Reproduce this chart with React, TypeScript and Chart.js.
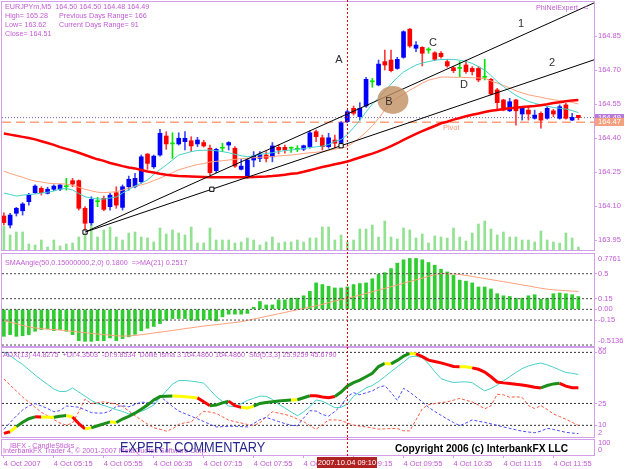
import React, { useEffect, useRef } from 'react';
import { Chart, registerables } from 'chart.js';

Chart.register(...registerables);

// ---------------- data ----------------
const OPEN = [164.056, 164.016, 164.068, 164.079, 164.119, 164.159, 164.178, 164.156, 164.174, 164.174,
  164.185, 164.212, 164.212, 164.09, 164.026, 164.119, 164.134, 164.097, 164.159, 164.094,
  164.185, 164.185, 164.207, 164.329, 164.273, 164.325, 164.409, 164.374, 164.374, 164.384,
  164.388, 164.374, 164.38, 164.355, 164.256, 164.355, 164.369, 164.355, 164.262, 164.227,
  164.303, 164.31, 164.325, 164.317, 164.359, 164.359, 164.355, 164.35, 164.351, 164.362,
  164.428, 164.401, 164.362, 164.391, 164.38, 164.472, 164.531, 164.494, 164.541, 164.648,
  164.634, 164.737, 164.744, 164.707, 164.756, 164.88, 164.796, 164.8, 164.788, 164.776,
  164.774, 164.737, 164.71, 164.707, 164.722, 164.707, 164.707, 164.668, 164.659, 164.612,
  164.568, 164.52, 164.568, 164.506, 164.523, 164.487, 164.509, 164.487, 164.52, 164.487,
  164.546, 164.479, 164.5];
const HIGH = [164.07, 164.068, 164.094, 164.115, 164.156, 164.193, 164.185, 164.183, 164.193, 164.197,
  164.222, 164.222, 164.215, 164.097, 164.141, 164.138, 164.144, 164.156, 164.185, 164.193,
  164.232, 164.244, 164.325, 164.332, 164.325, 164.438, 164.428, 164.423, 164.423, 164.428,
  164.406, 164.403, 164.39, 164.369, 164.355, 164.377, 164.384, 164.362, 164.306, 164.31,
  164.34, 164.34, 164.34, 164.38, 164.369, 164.369, 164.36, 164.366, 164.369, 164.432,
  164.435, 164.413, 164.421, 164.413, 164.472, 164.523, 164.541, 164.556, 164.668, 164.663,
  164.744, 164.788, 164.788, 164.756, 164.873, 164.884, 164.825, 164.803, 164.798, 164.781,
  164.781, 164.747, 164.715, 164.737, 164.744, 164.715, 164.715, 164.747, 164.663, 164.619,
  164.571, 164.575, 164.571, 164.535, 164.535, 164.523, 164.516, 164.538, 164.527, 164.546,
  164.553, 164.509, 164.5];
const LOW = [164.017, 164.003, 164.056, 164.06, 164.104, 164.156, 164.148, 164.153, 164.168, 164.168,
  164.17, 164.185, 164.082, 163.982, 164.016, 164.097, 164.079, 164.082, 164.09, 164.082,
  164.17, 164.18, 164.2, 164.262, 164.266, 164.32, 164.35, 164.31, 164.369, 164.347,
  164.34, 164.362, 164.36, 164.237, 164.247, 164.34, 164.347, 164.27, 164.259, 164.222,
  164.273, 164.296, 164.295, 164.295, 164.33, 164.333, 164.336, 164.34, 164.344, 164.355,
  164.384, 164.347, 164.355, 164.355, 164.362, 164.467, 164.501, 164.479, 164.535, 164.624,
  164.63, 164.7, 164.692, 164.703, 164.752, 164.8, 164.781, 164.718, 164.774, 164.741,
  164.752, 164.712, 164.688, 164.67, 164.685, 164.678, 164.648, 164.656, 164.59, 164.527,
  164.52, 164.516, 164.457, 164.479, 164.479, 164.483, 164.443, 164.483, 164.494, 164.483,
  164.483, 164.476, 164.48];
const CLOSE = [164.027, 164.06, 164.09, 164.109, 164.148, 164.188, 164.159, 164.174, 164.188, 164.193,
  164.185, 164.197, 164.09, 164.024, 164.129, 164.119, 164.085, 164.148, 164.104, 164.185,
  164.218, 164.222, 164.317, 164.288, 164.32, 164.421, 164.374, 164.374, 164.399, 164.399,
  164.365, 164.391, 164.365, 164.247, 164.35, 164.355, 164.38, 164.276, 164.276, 164.303,
  164.32, 164.329, 164.31, 164.365, 164.347, 164.347, 164.355, 164.35, 164.366, 164.423,
  164.406, 164.362, 164.401, 164.377, 164.467, 164.516, 164.509, 164.531, 164.659, 164.648,
  164.726, 164.722, 164.697, 164.747, 164.869, 164.806, 164.81, 164.774, 164.788, 164.747,
  164.759, 164.718, 164.697, 164.707, 164.693, 164.693, 164.656, 164.668, 164.594, 164.556,
  164.523, 164.56, 164.52, 164.531, 164.506, 164.501, 164.479, 164.531, 164.506, 164.538,
  164.487, 164.491, 164.49];
const MA_FAST = [164.157, 164.151, 164.144, 164.148, 164.151, 164.153, 164.157, 164.161, 164.166, 164.175,
  164.177, 164.171, 164.155, 164.141, 164.135, 164.131, 164.131, 164.135, 164.14, 164.157,
  164.172, 164.188, 164.201, 164.215, 164.239, 164.261, 164.281, 164.303, 164.325, 164.332,
  164.34, 164.345, 164.346, 164.347, 164.344, 164.34, 164.335, 164.328, 164.322, 164.318,
  164.321, 164.327, 164.332, 164.335, 164.34, 164.345, 164.347, 164.35, 164.354, 164.358,
  164.361, 164.364, 164.371, 164.385, 164.393, 164.415, 164.446, 164.478, 164.515, 164.55,
  164.576, 164.607, 164.638, 164.667, 164.691, 164.707, 164.722, 164.731, 164.737, 164.743,
  164.746, 164.747, 164.747, 164.743, 164.738, 164.729, 164.715, 164.7, 164.676, 164.649,
  164.627, 164.607, 164.588, 164.574, 164.562, 164.553, 164.546, 164.54, 164.535, 164.531,
  164.528, 164.521, 164.512];
const MA_MID = [164.254, 164.244, 164.235, 164.227, 164.217, 164.21, 164.206, 164.201, 164.199, 164.198,
  164.197, 164.191, 164.183, 164.174, 164.167, 164.161, 164.159, 164.161, 164.163, 164.17,
  164.179, 164.187, 164.193, 164.201, 164.212, 164.223, 164.235, 164.247, 164.26, 164.268,
  164.276, 164.283, 164.287, 164.294, 164.297, 164.3, 164.303, 164.306, 164.309, 164.311,
  164.313, 164.315, 164.317, 164.318, 164.321, 164.323, 164.325, 164.328, 164.332, 164.335,
  164.337, 164.34, 164.345, 164.351, 164.356, 164.362, 164.381, 164.402, 164.426, 164.454,
  164.486, 164.524, 164.557, 164.576, 164.594, 164.611, 164.626, 164.642, 164.655, 164.662,
  164.669, 164.669, 164.668, 164.668, 164.667, 164.666, 164.665, 164.663, 164.652, 164.642,
  164.632, 164.621, 164.608, 164.599, 164.591, 164.585, 164.58, 164.574, 164.569, 164.565,
  164.562, 164.557, 164.55];
const MA_SLOW = [164.42, 164.415, 164.41, 164.405, 164.4, 164.394, 164.386, 164.378, 164.37, 164.36,
  164.352, 164.344, 164.335, 164.325, 164.315, 164.306, 164.299, 164.29, 164.283, 164.276,
  164.27, 164.266, 164.259, 164.252, 164.248, 164.242, 164.238, 164.235, 164.232, 164.231,
  164.23, 164.229, 164.228, 164.227, 164.227, 164.227, 164.227, 164.227, 164.227, 164.227,
  164.228, 164.229, 164.23, 164.232, 164.235, 164.238, 164.242, 164.245, 164.251, 164.258,
  164.265, 164.272, 164.278, 164.284, 164.29, 164.296, 164.305, 164.314, 164.323, 164.331,
  164.341, 164.352, 164.364, 164.377, 164.392, 164.405, 164.418, 164.43, 164.442, 164.453,
  164.465, 164.472, 164.481, 164.488, 164.496, 164.503, 164.508, 164.515, 164.52, 164.524,
  164.528, 164.531, 164.534, 164.537, 164.539, 164.541, 164.545, 164.549, 164.554, 164.558,
  164.562, 164.566, 164.568];
const VOLUME = [96, 60, 72, 72, 24, 20, 40, 12, 40, 16, 24, 28, 52, 84, 108, 52, 80, 92, 52, 40, 68, 72, 52, 48,
  32, 88, 64, 80, 68, 60, 92, 28, 28, 88, 40, 40, 40, 28, 32, 48, 40, 20, 32, 52, 28, 32, 32,
  40, 32, 48, 48, 92, 92, 40, 60, 32, 40, 84, 84, 100, 52, 116, 52, 44, 88, 80, 48, 64, 28, 56,
  52, 48, 88, 52, 36, 68, 104, 116, 84, 60, 72, 52, 52, 40, 40, 32, 76, 40, 32, 28, 68, 48, 12];
const VOLUME_MAX = 992;
const PRICE_MIN = 163.906;
const PRICE_MAX = 165.0;
const PRICE_TICKS = [163.95, 164.1, 164.25, 164.4, 164.55, 164.7, 164.85];
const BID = 164.49;
const PIVOT = 164.47;
const TREND_1 = [{ x: 13, y: 163.985 }, { x: 94.5, y: 164.996 }];
const TREND_2 = [{ x: 13, y: 163.985 }, { x: 33.3, y: 164.174 }, { x: 54, y: 164.366 }, { x: 94.5, y: 164.745 }];
const NOTES = [
  { text: 'A', bar: 53.66, price: 164.744 },
  { text: 'B', bar: 61.67, price: 164.56 },
  { text: 'C', bar: 68.72, price: 164.818 },
  { text: 'D', bar: 73.68, price: 164.634 },
  { text: '1', bar: 82.8, price: 164.903 },
  { text: '2', bar: 87.77, price: 164.731 },
];
const ELLIPSE_B = { bar: 62.3, price: 164.568 };
const PIVOT_LABEL = { text: 'Pivot', bar: 70.3, price: 164.444 };
const HEADER = [
  ['EURJPYm,M5  164.50 164.50 164.48 164.49', ''],
  ['High= 165.28', 'Previous Days Range= 166'],
  ['Low= 163.62', 'Current Days Range= 91'],
  ['Close= 164.51', ''],
];

const SMA_ANGLE = [-0.378, -0.354, -0.378, -0.37, -0.354, -0.307, -0.283, -0.274, -0.297, -0.283,
  -0.307, -0.354, -0.439, -0.448, -0.448, -0.439, -0.439, -0.401, -0.439, -0.41,
  -0.385, -0.35, -0.3, -0.265, -0.24, -0.2, -0.152, -0.129, -0.129, -0.129,
  -0.152, -0.152, -0.143, -0.143, -0.162, -0.105, -0.067, -0.067, -0.067, -0.057,
  0.03, 0.11, 0.062, 0.062, 0.133, 0.133, 0.157, 0.157, 0.19, 0.252,
  0.371, 0.348, 0.324, 0.3, 0.3, 0.314, 0.348, 0.362, 0.371, 0.429,
  0.49, 0.514, 0.571, 0.648, 0.695, 0.714, 0.714, 0.695, 0.657, 0.619,
  0.562, 0.524, 0.476, 0.41, 0.395, 0.371, 0.314, 0.314, 0.286, 0.219,
  0.19, 0.181, 0.157, 0.157, 0.19, 0.205, 0.143, 0.157, 0.219, 0.229,
  0.219, 0.205, 0.18];
const SMA_ANGLE_MA = [-0.16, -0.18, -0.2, -0.225, -0.245, -0.26, -0.27, -0.277, -0.284, -0.29,
  -0.299, -0.308, -0.318, -0.327, -0.337, -0.346, -0.354, -0.362, -0.37, -0.375,
  -0.372, -0.366, -0.355, -0.344, -0.331, -0.32, -0.308, -0.296, -0.283, -0.27,
  -0.258, -0.246, -0.234, -0.224, -0.215, -0.205, -0.194, -0.184, -0.173, -0.155,
  -0.136, -0.117, -0.099, -0.081, -0.062, -0.043, -0.024, -0.006, 0.013, 0.032,
  0.05, 0.07, 0.095, 0.117, 0.138, 0.155, 0.177, 0.2, 0.223, 0.246,
  0.27, 0.294, 0.318, 0.341, 0.366, 0.39, 0.414, 0.437, 0.463, 0.486,
  0.504, 0.5, 0.495, 0.49, 0.476, 0.462, 0.447, 0.432, 0.417, 0.403,
  0.388, 0.374, 0.358, 0.343, 0.329, 0.312, 0.296, 0.283, 0.274, 0.268,
  0.262, 0.256, 0.2517];
const SMA_MIN = -0.5136;
const SMA_MAX = 0.7761;
const SMA_LEVELS = [0.5, 0.15, 0, -0.15, -0.5];
const SMA_TICKS = [-0.15, 0, 0.15, 0.5];
const SMA_TICK_LABELS = ['-0.15', '0.00', '0.15', '0.5'];

const ADX = [60.3, 57.8, 54.6, 51.8, 48.1, 44.5, 41.1, 38.1, 34.9, 33.1,
  33.3, 35.6, 32.8, 30, 27.1, 24.9, 23.6, 22.2, 20.8, 19.5,
  17.8, 18.5, 19.5, 21.5, 23.9, 28.7, 33.5, 38.3, 40.7, 40.7,
  40.3, 39.7, 38.9, 34.4, 29.7, 26.4, 23.2, 22.8, 24.8, 27.1,
  28.5, 30, 29.9, 27.8, 24.5, 21.9, 19.1, 16.6, 19.2, 22.8,
  27.4, 26.5, 24.4, 22.1, 22.3, 24.6, 30, 32.8, 35.6, 37.3,
  40.1, 43.3, 46.8, 50.1, 53.3, 56.9, 57.4, 56.4, 52.1, 46.8,
  42, 40.5, 39.3, 39.7, 39.8, 39.2, 36.3, 33.6, 35.3, 37.6,
  40.5, 43.3, 46.2, 48.9, 50.7, 51.9, 52.7, 51.4, 49.8, 48,
  46.2, 45.7, 44.83];
const PLUS_DI = [7.2, 11.9, 16.4, 20.5, 23.3, 24.9, 23.3, 21.5, 19.3, 20.1,
  23.2, 22.9, 22.4, 20.6, 18.7, 18.4, 18.4, 19.8, 22.9, 23.4,
  22.7, 24.3, 25.9, 25.6, 25.1, 29.9, 26.5, 22.9, 19.8, 18,
  16.2, 14.5, 12.6, 10.7, 8.9, 9.1, 9.4, 9.4, 9.1, 8.9,
  11.2, 13.9, 15.5, 14, 12.6, 11.2, 10, 9.6, 15, 20,
  19.8, 17.4, 16.3, 19.5, 23.5, 29.7, 32.4, 30.9, 32.3, 33.6,
  36, 37.2, 32.5, 27.2, 35.4, 32.7, 29.4, 26.1, 22.4, 19.5,
  16.9, 14.3, 11.9, 9.7, 11.6, 13.7, 12.8, 12, 11, 10,
  8.9, 7.9, 6.9, 6, 5.4, 4.9, 6, 7.9, 7.2, 6.2,
  5.2, 4.7, 4.35];
const MINUS_DI = [41.8, 37.6, 33.5, 29.4, 25.9, 22.4, 18.9, 16.5, 14, 11.5,
  10.1, 11.6, 19.4, 28, 24.9, 25.6, 26.1, 25.4, 24.5, 22.9,
  19.9, 16.6, 13.7, 10.9, 8.3, 7.3, 6, 7.6, 10.7, 11.8,
  12.4, 16, 19.6, 19.1, 18.2, 15.9, 13.6, 12.5, 11.6, 10.6,
  9.8, 11.8, 15.6, 19.3, 18.3, 17.5, 16.2, 14.3, 12.5, 9.8,
  7.3, 10.5, 13.7, 13.7, 13.4, 11.6, 10.1, 9.4, 8.9, 8.2,
  7.4, 7.6, 7.8, 7.8, 6.3, 6.2, 13.7, 21.3, 24.2, 24.9,
  25.6, 26.1, 27.2, 28.5, 27.2, 26, 23.9, 21.3, 23.4, 31.3,
  30.9, 29.2, 29.6, 29.1, 23.5, 21.5, 23.5, 20.9, 17.8, 16,
  14.2, 12.1, 9.85];
const STOCH = [4.5, 5.6, 9.1, 12.1, 14.5, 15.8, 15.7, 15.5, 15.5, 16.2,
  16.7, 15.7, 11.2, 7.5, 8.3, 9.7, 11, 12.4, 11.9, 14.3,
  16.2, 18.3, 21.1, 23.9, 27.4, 29.7, 29.9, 30.1, 29.9, 29.6,
  29.3, 28.8, 26.2, 23.4, 23.9, 25.4, 26.6, 23.5, 22.3, 21.8,
  23.2, 25, 25.6, 26.1, 26.6, 27.1, 27.3, 27.5, 28.9, 30.3,
  30.2, 29.4, 28.9, 29.7, 32.8, 36.9, 39.2, 41, 43.3, 45.7,
  50.3, 52.4, 52.1, 54.5, 57.4, 59.3, 58.9, 57.1, 54.7, 53.8,
  52.8, 51.6, 50.3, 50.2, 50.2, 49.4, 48.4, 46.5, 43.3, 39.7,
  39.1, 38.7, 38.1, 37.7, 37, 36.1, 35.6, 37.3, 38.4, 38.8,
  36.9, 35.8, 35.8];
const STOCH_STATE = 'rrygggryyg' + 'gyrrygggyg' + 'ggggggggyy' + 'yyrrgggrry' + 'yggggggygg' +
  'rrrrgggggg' + 'ggygggyrrr' + 'rrrryyrrrr' + 'rrrrrrrggg' + 'rrr';
const ADX_MIN = 2;
const ADX_MAX = 63;
const ADX_LEVELS = [60, 25, 10];

const TIME_TICKS = [0, 8, 16, 24, 32, 40, 48, 56, 64, 72, 80, 88];
const TIME_LABELS = ['4 Oct 2007', '4 Oct 05:15', '4 Oct 05:55', '4 Oct 06:35', '4 Oct 07:15', '4 Oct 07:55',
  '4 Oct 08:35', '4 Oct 09:15', '4 Oct 09:55', '4 Oct 10:35', '4 Oct 11:15', '4 Oct 11:55'];
const CURSOR_BAR = 55;
const CURSOR_LABEL = '2007.10.04 09:10';

// ---------------- styling ----------------
const FONT = '"Liberation Sans", Arial, sans-serif';
const VIOLET = '#c25ad4';
const FRAME = '#d49fea';
const X_MIN = -0.3;
const X_MAX = 94.5;
const AXIS_W = 31;

const pts = (arr: number[]) => arr.map((y, x) => ({ x, y }));
const hline = (v: number) => [{ x: X_MIN, y: v }, { x: X_MAX, y: v }];

function hiddenX(): any {
  return { type: 'linear', display: false, min: X_MIN, max: X_MAX, offset: false, grid: { offset: false } };
}

function rightAxis(min: number, max: number, ticks: number[], fmt: (v: number) => string): any {
  return {
    type: 'linear', position: 'right', min, max,
    afterBuildTicks: (s: any) => { s.ticks = ticks.map((v) => ({ value: v })); },
    afterFit: (s: any) => { s.width = AXIS_W; s.paddingTop = 0; s.paddingBottom = 0; },
    border: { display: false },
    grid: { display: true, drawOnChartArea: false, drawTicks: true, tickLength: 3, color: FRAME },
    ticks: { color: VIOLET, font: { family: FONT, size: 7.5 }, padding: 1, autoSkip: false, callback: (v: any) => fmt(Number(v)) },
  };
}

function commonOptions(padding: any): any {
  return {
    animation: false, responsive: false, maintainAspectRatio: false, events: [],
    layout: { padding, autoPadding: false },
    plugins: { legend: { display: false }, tooltip: { enabled: false } },
  };
}

function drawFrame(chart: any) {
  const { ctx, chartArea: a } = chart;
  ctx.save();
  ctx.strokeStyle = FRAME;
  ctx.lineWidth = 1;
  ctx.setLineDash([]);
  ctx.strokeRect(1.5, Math.round(a.top) - 0.5, 593, Math.round(a.bottom - a.top) + 1);
  ctx.restore();
}

function drawCursor(chart: any, bottom?: number) {
  const { ctx } = chart;
  const x = Math.round(chart.scales.x.getPixelForValue(CURSOR_BAR)) + 0.5;
  ctx.save();
  ctx.strokeStyle = '#e00000';
  ctx.lineWidth = 1;
  ctx.setLineDash([2, 2]);
  ctx.beginPath();
  ctx.moveTo(x, 0);
  ctx.lineTo(x, bottom ?? chart.height);
  ctx.stroke();
  ctx.restore();
}

function text(ctx: any, s: string, x: number, y: number, color: string, font: string, align = 'left', scaleX = 1) {
  ctx.save();
  ctx.fillStyle = color;
  ctx.font = font;
  ctx.textAlign = align;
  ctx.textBaseline = 'middle';
  if (scaleX !== 1) {
    ctx.translate(x, y);
    ctx.scale(scaleX, 1);
    ctx.fillText(s, 0, 0);
  } else {
    ctx.fillText(s, x, y);
  }
  ctx.restore();
}

// ---------------- overlays ----------------
const mainOverlay = {
  id: 'mainOverlay',
  afterDraw(chart: any) {
    const { ctx, scales } = chart;
    const xs = scales.x, ys = scales.y;
    ctx.save();
    const ex = xs.getPixelForValue(ELLIPSE_B.bar), ey = ys.getPixelForValue(ELLIPSE_B.price);
    ctx.fillStyle = 'rgba(192,142,96,0.8)';
    ctx.beginPath();
    ctx.ellipse(ex, ey, 15.5, 14, 0, 0, Math.PI * 2);
    ctx.fill();
    for (const n of NOTES) {
      text(ctx, n.text, xs.getPixelForValue(n.bar), ys.getPixelForValue(n.price), '#303030', `11px ${FONT}`, 'center');
    }
    text(ctx, PIVOT_LABEL.text, xs.getPixelForValue(PIVOT_LABEL.bar), ys.getPixelForValue(PIVOT_LABEL.price), '#f59a78', `7.5px ${FONT}`);
    HEADER.forEach((row, i) => {
      const y = 7.5 + i * 9;
      text(ctx, row[0], 5, y, VIOLET, `7.2px ${FONT}`);
      if (row[1]) text(ctx, row[1], 59, y, VIOLET, `7.2px ${FONT}`);
    });
    text(ctx, 'PhiNelExpert', 578, 8, VIOLET, `7.2px ${FONT}`, 'right');
    text(ctx, '≈', 586, 8, VIOLET, `8px ${FONT}`, 'center');
    drawFrame(chart);
    const boxes = [{ v: BID, bg: '#b77ad8' }, { v: PIVOT, bg: '#f5a07e' }];
    for (const b of boxes) {
      const y = ys.getPixelForValue(b.v);
      ctx.fillStyle = b.bg;
      ctx.fillRect(595, Math.round(y) - 4, 29, 8);
      text(ctx, b.v.toFixed(2), 598, y, '#ffffff', `7.5px ${FONT}`);
    }
    drawCursor(chart);
    ctx.restore();
  },
};

const smaOverlay = {
  id: 'smaOverlay',
  afterDraw(chart: any) {
    const { ctx, chartArea: a } = chart;
    ctx.save();
    drawFrame(chart);
    text(ctx, 'SMAAngle(50,0.15000000,2,0) 0.1800  =>MA(21) 0.2517', 5, a.top + 9, VIOLET, `7.2px ${FONT}`);
    text(ctx, SMA_MAX.toFixed(4), 598, a.top + 5, VIOLET, `7.5px ${FONT}`);
    text(ctx, SMA_MIN.toFixed(4), 598, a.bottom - 5, VIOLET, `7.5px ${FONT}`);
    drawCursor(chart);
    ctx.restore();
  },
};

const adxOverlay = {
  id: 'adxOverlay',
  afterDraw(chart: any) {
    const { ctx, chartArea: a } = chart;
    ctx.save();
    drawFrame(chart);
    text(ctx, 'ADX(13) 44.8275  +DI:4.3503  -DI:9.8534  Dollie Isma 3 164.4860 164.4860  Sto(5,3,3) 25.9259 45.6790',
      3, a.top + 7, VIOLET, `7.2px ${FONT}`);
    text(ctx, String(ADX_MAX), 598, a.top - 1, VIOLET, `7.5px ${FONT}`);
    text(ctx, String(ADX_MIN), 598, a.bottom - 4, VIOLET, `7.5px ${FONT}`);
    drawCursor(chart);
    ctx.restore();
  },
};

const footOverlay = {
  id: 'footOverlay',
  afterDraw(chart: any) {
    const { ctx, chartArea: a } = chart;
    ctx.save();
    drawFrame(chart);
    text(ctx, 'IBFX - CandleSticks', 10, a.top + 6, VIOLET, `7.2px ${FONT}`);
    text(ctx, 'InterbankFX Trader 4, © 2001-2007 MetaQuotes Software Corp.', 3, a.top + 11, VIOLET, `7.2px ${FONT}`);
    text(ctx, 'EXPERT COMMENTARY', 120, a.top + 8, '#28288c', `15px ${FONT}`, 'left', 0.85);
    text(ctx, 'Copyright 2006 (c) InterbankFX LLC', 395, a.top + 9, '#000000', `bold 10.5px ${FONT}`, 'left', 0.97);
    text(ctx, '100', 598, a.top + 3, VIOLET, `7.5px ${FONT}`);
    text(ctx, '0', 598, a.top + 10, VIOLET, `7.5px ${FONT}`);
    const x = chart.scales.x.getPixelForValue(CURSOR_BAR);
    const boxTop = a.bottom + 2;
    drawCursor(chart, boxTop);
    ctx.fillStyle = '#b02222';
    ctx.fillRect(Math.round(x) - 30, boxTop, 60, 11);
    text(ctx, CURSOR_LABEL, Math.round(x), boxTop + 5.5, '#ffffff', `7.5px ${FONT}`, 'center');
    ctx.restore();
  },
};

// ---------------- configs ----------------
function mainConfig(): any {
  const idx = OPEN.map((_, i) => i);
  const dir = (i: number) => (CLOSE[i] > OPEN[i] ? 1 : CLOSE[i] < OPEN[i] ? -1 : 0);
  const bodyColor = idx.map((i) => (dir(i) > 0 ? '#0000ff' : dir(i) < 0 ? '#ff0000' : '#00e400'));
  const wickColor = idx.map((i) => (dir(i) > 0 ? '#3a48ff' : dir(i) < 0 ? '#ff3a3a' : '#00e400'));
  return {
    type: 'bar',
    data: {
      datasets: [
        { type: 'bar', yAxisID: 'yv', data: pts(VOLUME), backgroundColor: '#92e292', barThickness: 2, grouped: false, order: 10 },
        { type: 'line', data: hline(PIVOT), borderColor: '#ffa07a', borderWidth: 1.5, borderDash: [9, 5], pointRadius: 0, order: 9 },
        { type: 'line', data: hline(BID), borderColor: '#6d6db8', borderWidth: 1, borderDash: [1, 2], pointRadius: 0, order: 9 },
        { type: 'bar', data: idx.map((i) => ({ x: i, y: [LOW[i], HIGH[i]] })), backgroundColor: wickColor, barThickness: 1, grouped: false, order: 6 },
        { type: 'bar', data: idx.map((i) => ({ x: i, y: [OPEN[i], CLOSE[i]] })), backgroundColor: bodyColor, barThickness: 4, minBarLength: 1, grouped: false, order: 5 },
        { type: 'line', data: pts(MA_MID), borderColor: '#ffa07a', borderWidth: 1, pointRadius: 0, order: 4 },
        { type: 'line', data: pts(MA_FAST), borderColor: '#42d2c8', borderWidth: 1, pointRadius: 0, order: 3 },
        { type: 'line', data: pts(MA_SLOW), borderColor: '#ff0000', borderWidth: 2.5, pointRadius: 0, order: 2 },
        { type: 'line', data: TREND_1, borderColor: '#000000', borderWidth: 1, pointRadius: 0, order: 1 },
        { type: 'line', data: TREND_2, borderColor: '#000000', borderWidth: 1, pointRadius: [3, 3, 3, 0], pointStyle: 'rect',
          pointBackgroundColor: '#ffffff', pointBorderColor: '#000000', pointBorderWidth: 1, order: 1 },
      ],
    },
    options: {
      ...commonOptions({ left: 2, right: 0, top: 2, bottom: 2 }),
      scales: {
        x: hiddenX(),
        y: rightAxis(PRICE_MIN, PRICE_MAX, PRICE_TICKS, (v) => v.toFixed(2)),
        yv: { type: 'linear', display: false, min: 0, max: VOLUME_MAX },
      },
    },
    plugins: [mainOverlay],
  };
}

function smaConfig(): any {
  return {
    type: 'bar',
    data: {
      datasets: [
        { type: 'bar', data: pts(SMA_ANGLE), backgroundColor: '#2fcd2f', barThickness: 3, grouped: false, order: 3 },
        { type: 'line', data: pts(SMA_ANGLE_MA), borderColor: '#ffa07a', borderWidth: 1, pointRadius: 0, order: 2 },
        ...SMA_LEVELS.map((v) => ({ type: 'line', data: hline(v), borderColor: '#4a4a4a', borderWidth: 1, borderDash: [2, 2], pointRadius: 0, order: 1 })),
      ],
    },
    options: {
      ...commonOptions({ left: 2, right: 0, top: 2, bottom: 1 }),
      scales: {
        x: hiddenX(),
        y: rightAxis(SMA_MIN, SMA_MAX, SMA_TICKS, (v) => SMA_TICK_LABELS[SMA_TICKS.indexOf(v)] ?? String(v)),
      },
    },
    plugins: [smaOverlay],
  };
}

function adxConfig(): any {
  const stochColors: Record<string, string> = { g: '#1a8f1a', y: '#ffff00', r: '#ff0000' };
  return {
    type: 'line',
    data: {
      datasets: [
        ...ADX_LEVELS.map((v) => ({ data: hline(v), borderColor: '#303030', borderWidth: 1, borderDash: [2, 2], pointRadius: 0, order: 6 })),
        { data: pts(MINUS_DI), borderColor: '#ff5a40', borderWidth: 1, borderDash: [3, 2], pointRadius: 0, order: 5 },
        { data: pts(PLUS_DI), borderColor: '#4a4aff', borderWidth: 1, borderDash: [3, 2], pointRadius: 0, order: 4 },
        { data: pts(ADX), borderColor: '#48d0c8', borderWidth: 1, pointRadius: 0, order: 3 },
        { data: pts(STOCH), borderColor: '#1a8f1a', borderWidth: 3, pointRadius: 0, order: 1,
          segment: { borderColor: (c: any) => stochColors[STOCH_STATE[c.p1DataIndex]] || '#1a8f1a' } },
      ],
    },
    options: {
      ...commonOptions({ left: 2, right: 0, top: 1, bottom: 1 }),
      scales: {
        x: hiddenX(),
        y: rightAxis(ADX_MIN, ADX_MAX, [...ADX_LEVELS].sort((p, q) => p - q), (v) => String(v)),
      },
    },
    plugins: [adxOverlay],
  };
}

function footConfig(): any {
  return {
    type: 'line',
    data: { datasets: [] },
    options: {
      ...commonOptions({ left: 2, right: 0, top: 2, bottom: 0 }),
      scales: {
        x: {
          type: 'linear', position: 'bottom', min: X_MIN, max: X_MAX, offset: false,
          afterBuildTicks: (s: any) => { s.ticks = TIME_TICKS.map((v) => ({ value: v })); },
          afterFit: (s: any) => { s.height = 14; s.paddingLeft = 0; s.paddingRight = 0; },
          border: { display: false },
          grid: { display: true, drawOnChartArea: false, drawTicks: true, tickLength: 3, color: FRAME },
          ticks: { color: VIOLET, font: { family: FONT, size: 7.5 }, padding: 1, align: 'start', autoSkip: false, maxRotation: 0,
            callback: (v: any) => TIME_LABELS[TIME_TICKS.indexOf(Number(v))] ?? '' },
        },
        y: {
          type: 'linear', position: 'right', min: 0, max: 100,
          ticks: { display: false }, grid: { display: false }, border: { display: false },
          afterFit: (s: any) => { s.width = AXIS_W; s.paddingTop = 0; s.paddingBottom = 0; },
        },
      },
    },
    plugins: [footOverlay],
  };
}

const PANES = [
  { top: 0, height: 252, make: mainConfig },
  { top: 252, height: 95, make: smaConfig },
  { top: 347, height: 91, make: adxConfig },
  { top: 438, height: 31, make: footConfig },
];

export default function App() {
  const refs = [useRef<HTMLCanvasElement>(null), useRef<HTMLCanvasElement>(null), useRef<HTMLCanvasElement>(null), useRef<HTMLCanvasElement>(null)];
  useEffect(() => {
    document.body.style.margin = '0';
    const charts = PANES.map((p, i) => new Chart(refs[i].current as HTMLCanvasElement, p.make()));
    return () => charts.forEach((c) => c.destroy());
  }, []);
  return (
    <div style={{ position: 'fixed', left: 0, top: 0, width: 625, height: 469, background: '#ffffff', overflow: 'hidden' }}>
      {PANES.map((p, i) => (
        <canvas key={i} ref={refs[i]} width={625} height={p.height}
          style={{ position: 'absolute', left: 0, top: p.top, width: 625, height: p.height }} />
      ))}
    </div>
  );
}
